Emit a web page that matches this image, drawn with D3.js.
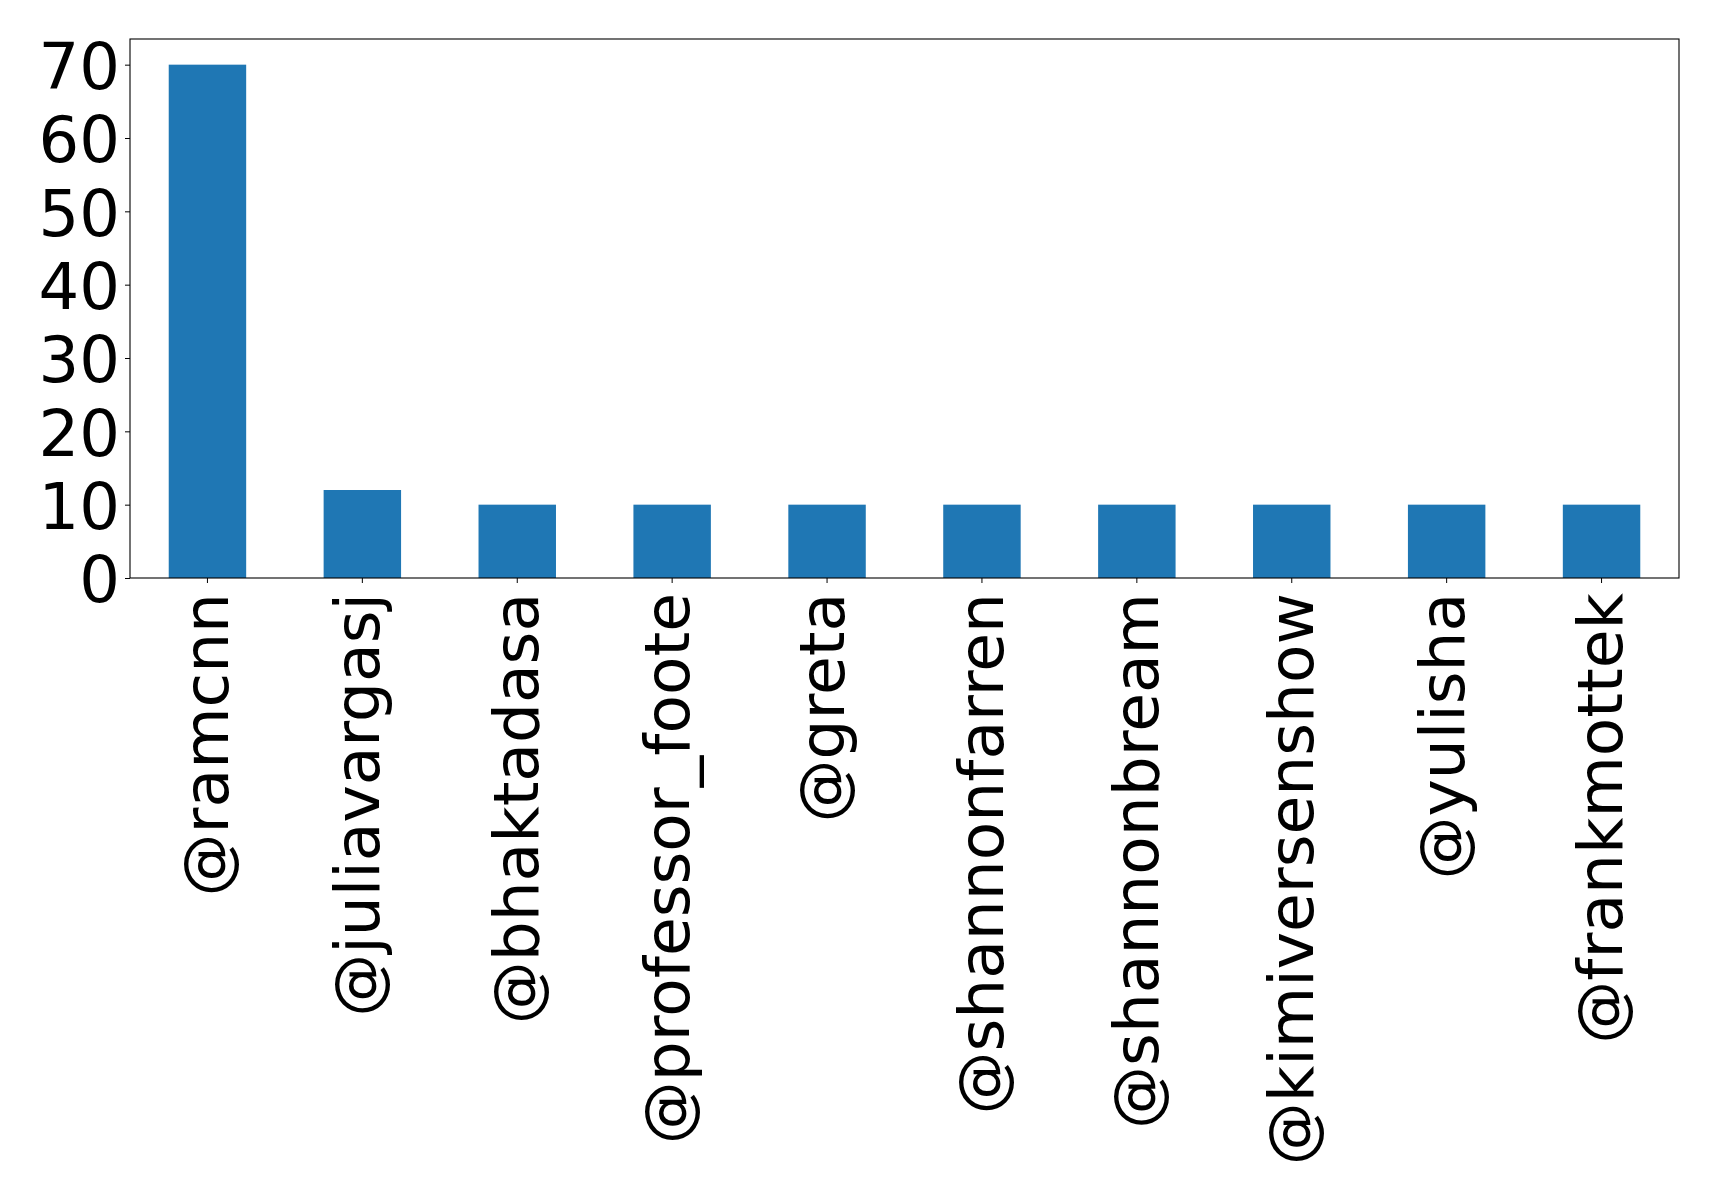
<!DOCTYPE html>
<html lang="en">

<head>
    <meta charset="UTF-8">
    <title>Mentions</title>
    <script src="https://d3js.org/d3.v7.min.js"></script>
    <style>
        * {
            margin: 0;
            padding: 0;
        }

        body {
            background: #fff;
        }

        text {
            font-family: "DejaVu Sans", sans-serif;
        }
    </style>
</head>

<body>
    <svg id="chart" width="1719" height="1195"></svg>
    <script>
        var categories = ["@ramcnn", "@juliavargasj", "@bhaktadasa", "@professor_foote", "@greta",
            "@shannonfarren", "@shannonbream", "@kimiversenshow", "@yulisha", "@frankmottek"];
        var counts = [70, 12, 10, 10, 10, 10, 10, 10, 10, 10];
        var yTicks = [0, 10, 20, 30, 40, 50, 60, 70];

        var margin = { left: 130, top: 39, right: 40, bottom: 617 };
        var width = 1719 - margin.left - margin.right,
            height = 1195 - margin.top - margin.bottom;

        var svg = d3.select('#chart');
        var g = svg.append('g').attr('transform', 'translate(' + margin.left + ',' + margin.top + ')');

        var x = d3.scaleBand().domain(categories).range([0, width]).paddingInner(0.5).paddingOuter(0.25);
        var y = d3.scaleLinear().domain([0, 73.5]).range([height, 0]);

        // bars
        g.selectAll('rect.bar')
            .data(counts)
            .enter()
            .append('rect')
            .attr('class', 'bar')
            .attr('x', function (d, i) { return x(categories[i]); })
            .attr('width', x.bandwidth())
            .attr('y', function (d) { return y(d); })
            .attr('height', function (d) { return height - y(d); })
            .attr('fill', '#1f77b4');

        // y axis
        var yAxis = g.append('g').call(d3.axisLeft(y).tickValues(yTicks).tickSize(5).tickPadding(5));
        yAxis.select('.domain').remove();
        yAxis.selectAll('text')
            .attr('font-size', 64)
            .attr('fill', '#000')
            .attr('dy', '0.37em');

        // x axis
        var xAxis = g.append('g')
            .attr('transform', 'translate(0,' + height + ')')
            .call(d3.axisBottom(x).tickSize(5).tickPadding(5));
        xAxis.select('.domain').remove();
        xAxis.selectAll('text')
            .attr('font-size', 63)
            .attr('fill', '#000')
            .attr('text-anchor', 'end')
            .attr('y', 0)
            .attr('x', -15)
            // matplotlib centres the ink box, so labels with descenders sit a bit closer
            .attr('dy', function (d) { return /[gjpqy_]/.test(d) ? '0.27em' : '0.33em'; })
            .attr('transform', 'rotate(-90)');

        // frame
        g.append('rect')
            .attr('x', 0).attr('y', 0)
            .attr('width', width).attr('height', height)
            .attr('fill', 'none')
            .attr('stroke', '#000')
            .attr('stroke-width', 1.1);
    </script>
</body>

</html>
